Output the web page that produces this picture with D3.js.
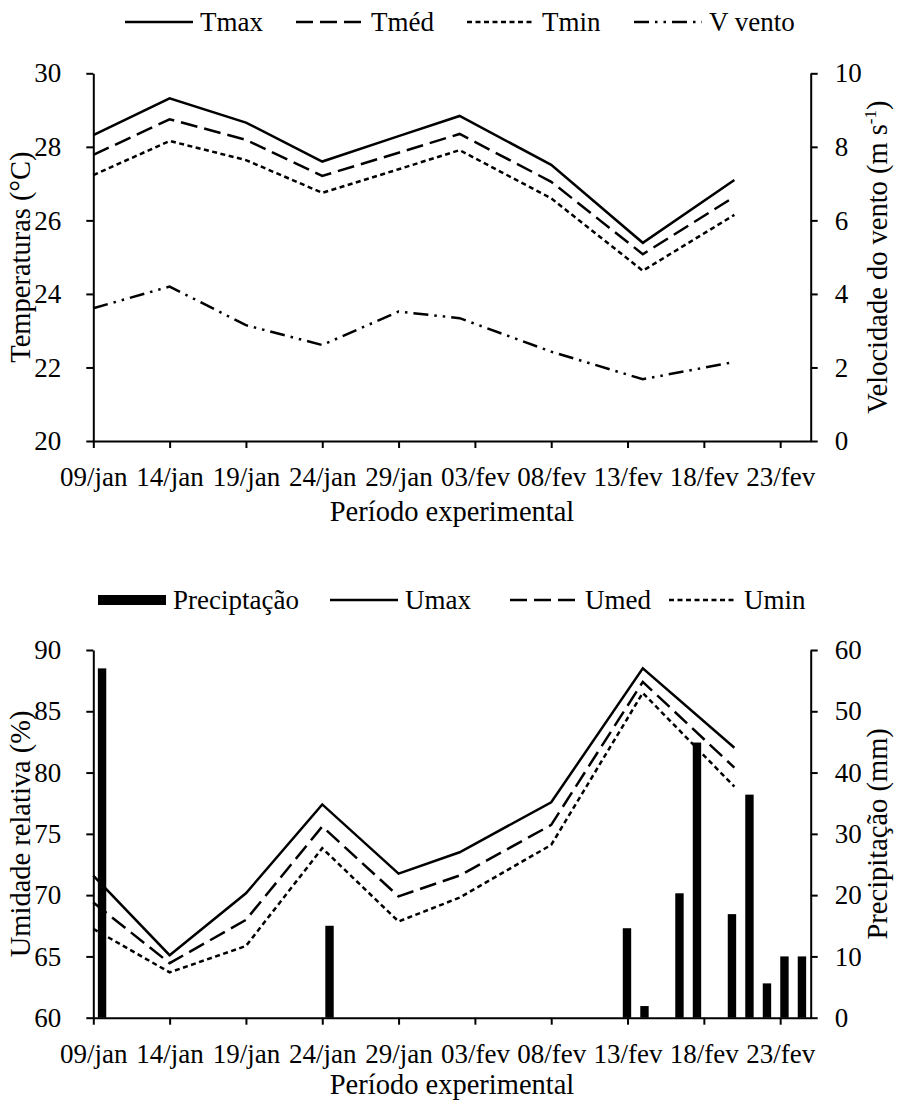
<!DOCTYPE html>
<html>
<head>
<meta charset="utf-8">
<script src="https://cdn.jsdelivr.net/npm/d3@7"></script>
<style>
body { margin: 0; background: #fff; }
text { font-family: "Liberation Serif", "Times New Roman", serif; fill: #000; }
.tick text { font-size: 27px; }
.title { font-size: 28.5px; }
.legend text { font-size: 27px; }
</style>
</head>
<body>
<script>
// data
var lineDates = ['2019-01-09', '2019-01-14', '2019-01-19', '2019-01-24', '2019-01-29',
                 '2019-02-02', '2019-02-08', '2019-02-14', '2019-02-20'];
var tmax = [28.32, 29.32, 28.66, 27.60, 28.29, 28.84, 27.51, 25.39, 27.10];
var tmed = [27.78, 28.75, 28.19, 27.21, 27.84, 28.35, 27.05, 25.08, 26.64];
var tmin = [27.23, 28.16, 27.64, 26.75, 27.39, 27.91, 26.60, 24.63, 26.15];
var vento = [3.61, 4.20, 3.15, 2.61, 3.52, 3.34, 2.43, 1.68, 2.15];

var umax = [71.6, 65.1, 70.15, 77.4, 71.75, 73.5, 77.58, 88.5, 82.03];
var umed = [69.4, 64.45, 67.98, 75.6, 69.9, 71.6, 75.73, 87.4, 80.4];
var umin = [67.25, 63.7, 65.85, 73.83, 67.85, 69.8, 74.1, 86.5, 78.85];

// daily rainfall (mm), one value per day of the record
var precip = [57, 0, 0, 0, 0, 0, 0, 0, 0, 0, 0, 0, 0, 15, 0, 0, 0, 0, 0, 0,
              0, 0, 0, 0, 0, 0, 0, 0, 0, 0, 14.6, 1.9, 0, 20.3, 44.9, 0, 16.9, 36.4, 5.6, 10, 10];

var tickDates = ['2019-01-09', '2019-01-14', '2019-01-19', '2019-01-24', '2019-01-29',
                 '2019-02-03', '2019-02-08', '2019-02-13', '2019-02-18', '2019-02-23'];
var xDomain = ['2019-01-09', '2019-02-25'];
var months = ['jan', 'fev'];

var W = 899, H = 1101,
    X0 = 93.3, X1 = 810.7;

var parse = d3.utcParse('%Y-%m-%d');

var svg = d3.select('body').append('svg')
    .attr('width', W)
    .attr('height', H);

var x = d3.scaleUtc()
    .domain(xDomain.map(parse))
    .range([X0, X1]);

var fmtDate = function(d) {
    return d3.utcFormat('%d')(d) + '/' + months[d.getUTCMonth()];
};

var dashes = {
    solid: null,
    long: '17,7',
    short: '5,3.5',
    dashdot: '15,6,2.5,6,2.5,6'
};

function vTitle(xPos, yPos, label) {
    return svg.append('text')
        .attr('class', 'title')
        .attr('text-anchor', 'middle')
        .attr('transform', 'translate(' + xPos + ',' + yPos + ') rotate(-90)')
        .text(label);
}

function drawLine(yScale, values, style) {
    var line = d3.line()
        .x(function(d, i) { return x(parse(lineDates[i])); })
        .y(function(d) { return yScale(d); });
    svg.append('path')
        .datum(values)
        .attr('d', line)
        .attr('fill', 'none')
        .attr('stroke', '#000')
        .attr('stroke-width', 2.5)
        .attr('stroke-dasharray', dashes[style]);
}

function drawAxes(bottom, yL, yR, leftTicks, rightTicks) {
    var gx = svg.append('g')
        .attr('transform', 'translate(0,' + bottom + ')')
        .call(d3.axisBottom(x)
            .tickValues(tickDates.map(parse))
            .tickFormat(fmtDate)
            .tickSize(7)
            .tickSizeOuter(0)
            .tickPadding(19));

    var gl = svg.append('g')
        .attr('transform', 'translate(' + X0 + ',0)')
        .call(d3.axisLeft(yL)
            .tickValues(leftTicks)
            .tickSize(7)
            .tickSizeOuter(0)
            .tickPadding(25));

    var gr = svg.append('g')
        .attr('transform', 'translate(' + X1 + ',0)')
        .call(d3.axisRight(yR)
            .tickValues(rightTicks)
            .tickSize(7)
            .tickSizeOuter(0)
            .tickPadding(17));

    [gx, gl, gr].forEach(function(g) {
        g.attr('font-size', null).attr('font-family', null);
        g.selectAll('path, line').attr('stroke', '#000').attr('stroke-width', 2);
    });
}

function drawLegend(yPos, items) {
    var g = svg.append('g').attr('class', 'legend');
    items.forEach(function(it) {
        if (it.bar) {
            g.append('rect')
                .attr('x', it.x)
                .attr('y', yPos - 5)
                .attr('width', 68)
                .attr('height', 10)
                .attr('fill', '#000');
        } else {
            g.append('line')
                .attr('x1', it.x)
                .attr('x2', it.x + 68)
                .attr('y1', yPos)
                .attr('y2', yPos)
                .attr('stroke', '#000')
                .attr('stroke-width', 2.5)
                .attr('stroke-dasharray', dashes[it.style]);
        }
        g.append('text')
            .attr('x', it.x + 75)
            .attr('y', yPos + 9)
            .text(it.label);
    });
}

function xTitle(yPos) {
    svg.append('text')
        .attr('class', 'title')
        .attr('x', (X0 + X1) / 2)
        .attr('y', yPos)
        .attr('text-anchor', 'middle')
        .text('Período experimental');
}

// ---- top chart: temperatures and wind
var topY0 = 73.3, topY1 = 441;
var yT = d3.scaleLinear().domain([20, 30]).range([topY1, topY0]);
var yV = d3.scaleLinear().domain([0, 10]).range([topY1, topY0]);

drawLine(yT, tmax, 'solid');
drawLine(yT, tmed, 'long');
drawLine(yT, tmin, 'short');
drawLine(yV, vento, 'dashdot');
drawAxes(topY1, yT, yV, [20, 22, 24, 26, 28, 30], [0, 2, 4, 6, 8, 10]);
xTitle(521);
vTitle(30, (topY0 + topY1) / 2, 'Temperaturas (°C)');

var vt = vTitle(887, (topY0 + topY1) / 2, 'Velocidade do vento (m s');
vt.append('tspan').attr('dy', -11).attr('font-size', '17px').text('-1');
vt.append('tspan').attr('dy', 11).text(')');

drawLegend(22, [
    {label: 'Tmax', style: 'solid', x: 125},
    {label: 'Tméd', style: 'long', x: 296},
    {label: 'Tmin', style: 'short', x: 467},
    {label: 'V vento', style: 'dashdot', x: 634}
]);

// ---- bottom chart: humidity and rainfall
var botY0 = 650, botY1 = 1017.7;
var yU = d3.scaleLinear().domain([60, 90]).range([botY1, botY0]);
var yP = d3.scaleLinear().domain([0, 60]).range([botY1, botY0]);
var xb = d3.scaleBand()
    .domain(d3.range(precip.length))
    .range([X0, X1])
    .paddingInner(0.52)
    .paddingOuter(0.26);

svg.append('g')
    .selectAll('rect')
    .data(precip)
    .enter().append('rect')
    .attr('x', function(d, i) { return xb(i); })
    .attr('y', function(d) { return yP(d); })
    .attr('width', xb.bandwidth())
    .attr('height', function(d) { return botY1 - yP(d); })
    .attr('fill', '#000');

drawLine(yU, umax, 'solid');
drawLine(yU, umed, 'long');
drawLine(yU, umin, 'short');
drawAxes(botY1, yU, yP, [60, 65, 70, 75, 80, 85, 90], [0, 10, 20, 30, 40, 50, 60]);
xTitle(1094);
vTitle(30, (botY0 + botY1) / 2, 'Umidade relativa (%)');
vTitle(887, (botY0 + botY1) / 2, 'Precipitação (mm)');

drawLegend(600, [
    {label: 'Preciptação', bar: true, x: 98},
    {label: 'Umax', style: 'solid', x: 330},
    {label: 'Umed', style: 'long', x: 510},
    {label: 'Umin', style: 'short', x: 669}
]);
</script>
</body>
</html>
